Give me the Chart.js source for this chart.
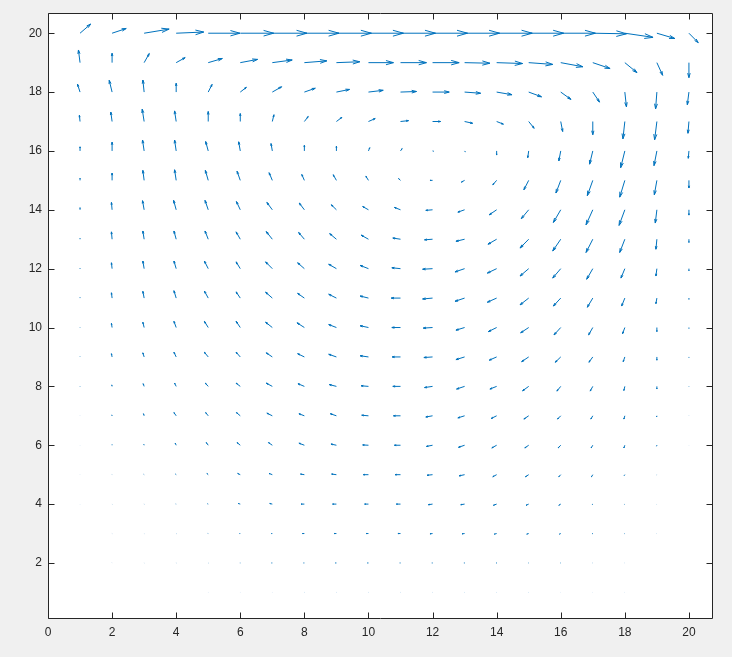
<!DOCTYPE html>
<html><head><meta charset="utf-8">
<script src="https://cdn.jsdelivr.net/npm/chart.js@4/dist/chart.umd.min.js"></script>
<style>html,body{margin:0;padding:0;background:#f0f0f0;overflow:hidden}#wrap{width:732px;height:657px}</style>
</head><body><div id="wrap"><canvas id="c" width="732" height="657"></canvas></div>
<script>
// grid columns (x) and rows (y, listed from top row y=20 to bottom row y=1)
const xCols = [1,2,3,4,5,6,7,8,9,10,11,12,13,14,15,16,17,18,19,20];
const yRows = [20,19,18,17,16,15,14,13,12,11,10,9,8,7,6,5,4,3,2,1];
const xTicks = [0,2,4,6,8,10,12,14,16,18,20];
const yTicks = [2,4,6,8,10,12,14,16,18,20];

// horizontal arrow components (data units), one row per y in yRows
const U = [
 [0.33,0.44,0.78,0.86,0.99,1.04,1.08,1.08,1.09,1.09,1.09,1.09,1.09,1.11,1.09,1.08,1.05,0.88,0.56,0.29],
 [-0.05,0,0.16,0.28,0.44,0.54,0.62,0.70,0.73,0.78,0.81,0.83,0.79,0.81,0.75,0.69,0.54,0.38,0.18,0],
 [-0.08,-0.09,-0.04,0,0.12,0.19,0.29,0.34,0.41,0.46,0.50,0.52,0.50,0.48,0.40,0.32,0.21,0.05,-0.04,-0.05],
 [-0.02,-0.04,-0.06,-0.05,0,0,0.05,0.12,0.17,0.21,0.25,0.25,0.25,0.21,0.17,0.06,0,-0.06,-0.07,-0.03],
 [0,0,-0.05,-0.05,-0.08,-0.05,-0.04,0,0,0.04,0.05,0.03,0.02,0,-0.03,-0.06,-0.10,-0.13,-0.09,-0.02],
 [0,0,-0.04,-0.05,-0.09,-0.10,-0.10,-0.08,-0.10,-0.08,-0.06,-0.08,-0.10,-0.12,-0.15,-0.15,-0.17,-0.16,-0.08,0],
 [0,-0.02,-0.05,-0.08,-0.10,-0.12,-0.17,-0.16,-0.16,-0.18,-0.19,-0.21,-0.21,-0.23,-0.23,-0.23,-0.21,-0.18,-0.05,0],
 [0,-0.02,-0.04,-0.07,-0.10,-0.13,-0.19,-0.18,-0.21,-0.23,-0.24,-0.25,-0.27,-0.27,-0.27,-0.25,-0.21,-0.16,-0.03,0],
 [0,-0.02,-0.04,-0.07,-0.12,-0.13,-0.21,-0.21,-0.24,-0.26,-0.27,-0.31,-0.30,-0.29,-0.27,-0.25,-0.19,-0.12,-0.03,0],
 [0,-0.02,-0.04,-0.07,-0.12,-0.13,-0.21,-0.21,-0.24,-0.26,-0.29,-0.31,-0.30,-0.29,-0.27,-0.23,-0.17,-0.10,-0.03,0],
 [0,-0.02,-0.04,-0.07,-0.12,-0.13,-0.21,-0.23,-0.24,-0.26,-0.27,-0.29,-0.27,-0.26,-0.25,-0.21,-0.13,-0.07,0,0],
 [0,-0.02,-0.04,-0.07,-0.12,-0.13,-0.19,-0.21,-0.24,-0.26,-0.26,-0.27,-0.27,-0.23,-0.22,-0.17,-0.12,-0.05,0,0],
 [0,-0.01,-0.03,-0.05,-0.09,-0.13,-0.19,-0.20,-0.22,-0.23,-0.24,-0.25,-0.25,-0.21,-0.19,-0.12,-0.08,-0.03,0,0],
 [0,-0.01,-0.02,-0.07,-0.08,-0.12,-0.17,-0.17,-0.19,-0.21,-0.22,-0.21,-0.21,-0.17,-0.15,-0.10,-0.06,-0.03,-0.01,0],
 [0,0,-0.01,-0.03,-0.06,-0.10,-0.12,-0.17,-0.17,-0.18,-0.19,-0.19,-0.19,-0.15,-0.12,-0.08,-0.05,-0.03,-0.01,0],
 [0,-0.003,-0.01,-0.02,-0.04,-0.08,-0.10,-0.12,-0.15,-0.16,-0.17,-0.17,-0.17,-0.12,-0.10,-0.06,-0.04,-0.02,-0.005,0],
 [0,-0.003,-0.005,-0.01,-0.02,-0.06,-0.08,-0.10,-0.12,-0.12,-0.13,-0.13,-0.12,-0.10,-0.08,-0.06,-0.02,-0.01,-0.003,0],
 [0,-0.003,-0.003,-0.005,-0.01,-0.02,-0.03,-0.06,-0.07,-0.07,-0.08,-0.08,-0.08,-0.07,-0.06,-0.04,-0.02,-0.01,-0.003,0],
 [0,-0.002,-0.003,-0.004,-0.005,-0.01,-0.02,-0.02,-0.03,-0.03,-0.02,-0.02,-0.02,-0.02,-0.01,-0.01,-0.005,-0.003,0,0],
 [0,0,0,0,-0.002,-0.002,-0.002,-0.003,-0.003,-0.003,-0.003,-0.003,-0.003,-0.003,-0.003,-0.002,-0.002,-0.002,0,0]
];
// vertical arrow components (data units)
const V = [
 [0.31,0.16,0.14,0.04,0,0,0,0,0,0,0,0,0,0,0,0,-0.02,-0.14,-0.18,-0.32],
 [0.43,0.32,0.31,0.17,0.14,0.11,0.09,0.06,0.03,0,0,0,-0.02,-0.03,-0.06,-0.14,-0.20,-0.34,-0.43,-0.51],
 [0.27,0.40,0.41,0.30,0.26,0.16,0.18,0.13,0.09,0.06,0.02,0,-0.04,-0.09,-0.16,-0.25,-0.34,-0.50,-0.57,-0.43],
 [0.21,0.32,0.42,0.36,0.34,0.27,0.23,0.17,0.14,0.10,0.03,0,-0.06,-0.09,-0.23,-0.34,-0.45,-0.59,-0.62,-0.40],
 [0.14,0.30,0.37,0.37,0.32,0.31,0.25,0.19,0.16,0.11,0.08,-0.01,-0.03,-0.14,-0.23,-0.34,-0.45,-0.57,-0.50,-0.25],
 [0.07,0.25,0.34,0.36,0.34,0.31,0.26,0.20,0.19,0.14,0.06,0,-0.06,-0.15,-0.32,-0.43,-0.52,-0.57,-0.49,-0.26],
 [0.07,0.25,0.31,0.32,0.32,0.28,0.25,0.23,0.17,0.11,0.08,-0.02,-0.08,-0.17,-0.30,-0.43,-0.51,-0.53,-0.45,-0.18],
 [0.03,0.25,0.28,0.28,0.28,0.25,0.26,0.23,0.19,0.14,0.04,-0.02,-0.07,-0.17,-0.30,-0.40,-0.45,-0.45,-0.34,-0.11],
 [0.02,0.20,0.26,0.26,0.26,0.23,0.23,0.20,0.15,0.11,0.03,-0.02,-0.11,-0.15,-0.25,-0.32,-0.36,-0.32,-0.25,-0.07],
 [0.02,0.18,0.23,0.25,0.24,0.21,0.20,0.16,0.13,0.07,0,-0.03,-0.11,-0.14,-0.23,-0.27,-0.31,-0.27,-0.19,-0.04],
 [0.01,0.14,0.18,0.21,0.21,0.21,0.18,0.16,0.10,0.06,0,-0.02,-0.09,-0.14,-0.18,-0.25,-0.25,-0.21,-0.14,-0.03],
 [0.01,0.11,0.14,0.16,0.16,0.16,0.14,0.11,0.09,0.04,0,-0.02,-0.09,-0.11,-0.16,-0.18,-0.18,-0.16,-0.11,-0.02],
 [0.01,0.05,0.09,0.11,0.11,0.11,0.11,0.09,0.06,0.02,0,-0.04,-0.09,-0.09,-0.15,-0.16,-0.16,-0.14,-0.09,-0.01],
 [0.003,0.03,0.07,0.11,0.11,0.11,0.09,0.07,0.07,0.02,0,-0.04,-0.07,-0.09,-0.11,-0.11,-0.11,-0.11,-0.04,-0.003],
 [0.002,0.02,0.03,0.07,0.09,0.09,0.09,0.07,0.04,0.01,0,-0.04,-0.07,-0.09,-0.09,-0.09,-0.09,-0.09,-0.03,-0.002],
 [0.002,0.005,0.01,0.02,0.04,0.04,0.04,0.02,0.02,0,0,-0.02,-0.04,-0.07,-0.07,-0.07,-0.07,-0.03,-0.005,0],
 [0.002,0.003,0.003,0.003,0.01,0.02,0.02,0,0,0,0,-0.02,-0.02,-0.04,-0.04,-0.04,-0.02,-0.01,-0.003,0],
 [0,0.002,0.002,0.002,0.002,0,0,0,0,0,0,-0.01,-0.01,-0.02,-0.02,-0.02,-0.005,-0.003,0,0],
 [0,0.002,0.002,0.002,0.002,0,0,0,0,0,0,0,0,0,0,0,0,0,0,0],
 [0,0,0,0,0,0,0,0,0,0,0,0,0,0,0,0,0,0,0,0]
];

const points = [];
yRows.forEach((y, r) => xCols.forEach((x, c) => points.push({x, y, u: U[r][c], v: V[r][c]})));

const ARROW = '#0072BD', AXIS = '#262626';

const quiver = {
  id: 'quiver',
  beforeDraw(chart) {
    const {ctx, chartArea: a} = chart;
    ctx.save();
    ctx.fillStyle = '#f0f0f0'; ctx.fillRect(0, 0, chart.width, chart.height);
    ctx.fillStyle = '#ffffff'; ctx.fillRect(a.left, a.top, a.right - a.left, a.bottom - a.top);
    ctx.restore();
  },
  afterDatasetsDraw(chart) {
    const {ctx, scales: {x: xs, y: ys}, chartArea: a} = chart;
    const pts = chart.data.datasets[0].data;
    ctx.save();
    ctx.beginPath(); ctx.rect(a.left, a.top, a.right - a.left, a.bottom - a.top); ctx.clip();
    ctx.strokeStyle = ARROW; ctx.lineWidth = 1; ctx.lineJoin = 'miter'; ctx.lineCap = 'butt';
    const al = 0.3, be = 0.28;
    for (const p of pts) {
      if (p.u === 0 && p.v === 0) continue;
      const x0 = xs.getPixelForValue(p.x), y0 = ys.getPixelForValue(p.y);
      const x1 = xs.getPixelForValue(p.x + p.u), y1 = ys.getPixelForValue(p.y + p.v);
      const dx = x1 - x0, dy = y1 - y0;
      ctx.beginPath();
      ctx.moveTo(x0, y0); ctx.lineTo(x1, y1);
      ctx.moveTo(x1 - al * (dx + be * dy), y1 - al * (dy - be * dx));
      ctx.lineTo(x1, y1);
      ctx.lineTo(x1 - al * (dx - be * dy), y1 - al * (dy + be * dx));
      ctx.stroke();
    }
    ctx.restore();
  },
  afterDraw(chart) {
    const {ctx, scales: {x: xs, y: ys}, chartArea: a} = chart;
    ctx.save();
    ctx.strokeStyle = AXIS; ctx.lineWidth = 1;
    const L = Math.round(a.left) + 0.5, R = Math.round(a.right) + 0.5;
    const T = Math.round(a.top) + 0.5, B = Math.round(a.bottom) + 0.5;
    ctx.beginPath();
    ctx.rect(L, T, R - L, B - T);
    const tl = 6;
    xTicks.forEach(t => {
      const px = Math.round(xs.getPixelForValue(t)) + 0.5;
      ctx.moveTo(px, B); ctx.lineTo(px, B - tl);
      ctx.moveTo(px, T); ctx.lineTo(px, T + tl);
    });
    yTicks.forEach(t => {
      const py = Math.round(ys.getPixelForValue(t)) + 0.5;
      ctx.moveTo(L, py); ctx.lineTo(L + tl, py);
      ctx.moveTo(R, py); ctx.lineTo(R - tl, py);
    });
    ctx.stroke();
    ctx.restore();
  }
};

const font = {family: "'Liberation Sans', Arial, Helvetica, sans-serif", size: 12};

new Chart(document.getElementById('c'), {
  type: 'scatter',
  data: {datasets: [{data: points, pointRadius: 0, pointHoverRadius: 0, showLine: false}]},
  options: {
    responsive: false, animation: false, devicePixelRatio: 1,
    layout: {padding: {top: 13, right: 20, left: 0, bottom: 0}},
    plugins: {legend: {display: false}, tooltip: {enabled: false}},
    events: [],
    scales: {
      x: {
        type: 'linear', min: 0, max: 20.72,
        grid: {display: false, drawTicks: false}, border: {display: false},
        ticks: {color: AXIS, font, padding: 7, maxRotation: 0, autoSkip: false},
        afterBuildTicks: s => { s.ticks = xTicks.map(v => ({value: v})); },
        afterFit: s => { s.height = 39; }
      },
      y: {
        type: 'linear', min: 0.13, max: 20.68,
        grid: {display: false, drawTicks: false}, border: {display: false},
        ticks: {color: AXIS, font, padding: 6, autoSkip: false},
        afterBuildTicks: s => { s.ticks = yTicks.map(v => ({value: v})); },
        afterFit: s => { s.width = 48; }
      }
    }
  },
  plugins: [quiver]
});
</script>
</body></html>
